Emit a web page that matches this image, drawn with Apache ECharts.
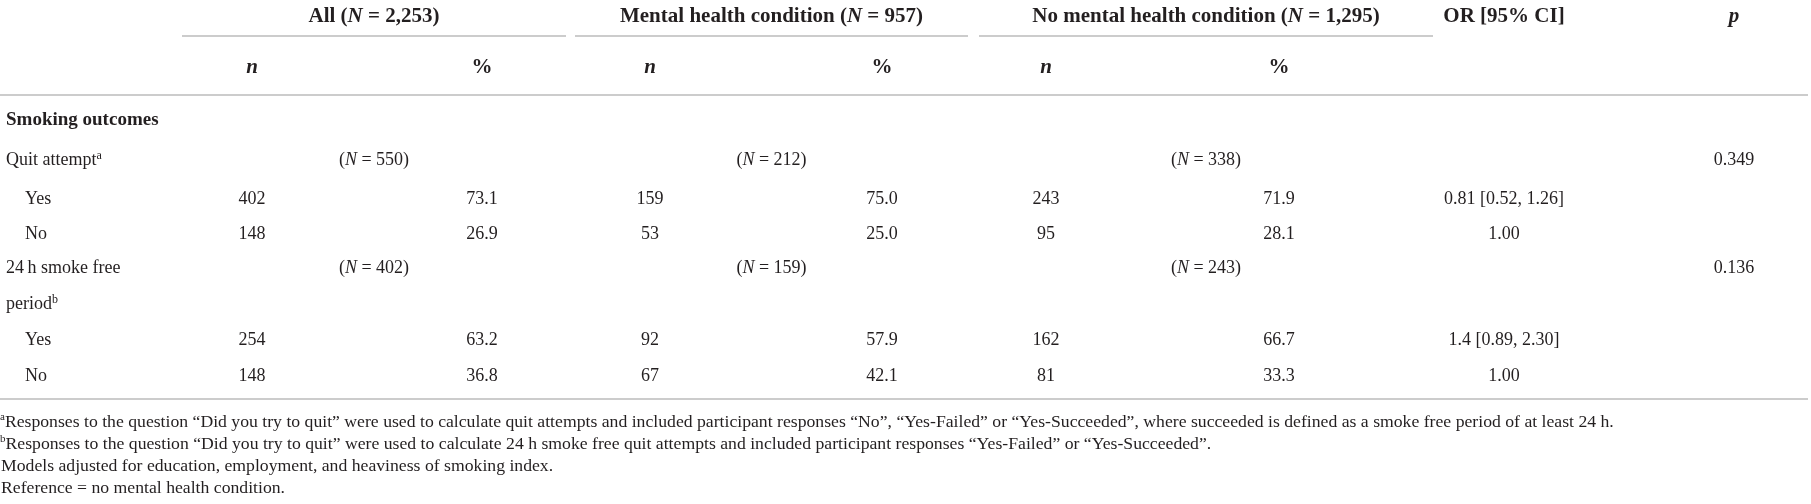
<!DOCTYPE html>
<html>
<head>
<meta charset="utf-8">
<script src="https://cdn.jsdelivr.net/npm/echarts@6/dist/echarts.min.js"></script>
<style>
  html, body { margin: 0; padding: 0; background: #fff; }
  #main { width: 1811px; height: 504px; }
</style>
</head>
<body>
<div id="main"></div>
<script>
const groupNames = ['All', 'Mental health condition', 'No mental health condition']
const groupTotals = ['2,253', '957', '1,295']
const subHeaders = ['n', '%']
const quitTotals = ['550', '212', '338']
const smokeFreeTotals = ['402', '159', '243']
const outcomeLabels = ['Yes', 'No', 'Yes', 'No']
const allN = ['402', '148', '254', '148']
const allPct = ['73.1', '26.9', '63.2', '36.8']
const mentalN = ['159', '53', '92', '67']
const mentalPct = ['75.0', '25.0', '57.9', '42.1']
const noMentalN = ['243', '95', '162', '81']
const noMentalPct = ['71.9', '28.1', '66.7', '33.3']
const oddsRatios = ['0.81 [0.52, 1.26]', '1.00', '1.4 [0.89, 2.30]', '1.00']
const pValues = ['0.349', '0.136']
const footnotes = [
  ['a', 'Responses to the question \u201cDid you try to quit\u201d were used to calculate quit attempts and included participant responses \u201cNo\u201d, \u201cYes-Failed\u201d or \u201cYes-Succeeded\u201d, where succeeded is defined as a smoke free period of at least 24 h.'],
  ['b', 'Responses to the question \u201cDid you try to quit\u201d were used to calculate 24 h smoke free quit attempts and included participant responses \u201cYes-Failed\u201d or \u201cYes-Succeeded\u201d.'],
  ['', 'Models adjusted for education, employment, and heaviness of smoking index.'],
  ['', 'Reference = no mental health condition.']
]

// layout
const FONT = '"Liberation Serif", "DejaVu Serif", serif'
const INK = '#231f20'
const RULE = '#cccccc'
const groupSpans = [[182, 566], [575, 968], [979, 1433]]
const nX = [252, 650, 1046]
const pctX = [482, 882, 1279]
const orX = 1504
const pX = 1734
const headY = 17
const groupLineY = 36
const subHeadY = 68
const topRuleY = 95
const rowY = [120, 160, 199, 234, 268, 304, 340, 376]
const bottomRuleY = 399
const noteY = [422, 444, 466, 488]

const rich = {
  b: { fontFamily: FONT, fontSize: 21, fontWeight: 'bold', fill: INK, lineHeight: 24 },
  bi: { fontFamily: FONT, fontSize: 21, fontWeight: 'bold', fontStyle: 'italic', fill: INK, lineHeight: 24 },
  r: { fontFamily: FONT, fontSize: 18, fill: INK, lineHeight: 20 },
  i: { fontFamily: FONT, fontSize: 18, fontStyle: 'italic', fill: INK, lineHeight: 20 },
  rb: { fontFamily: FONT, fontSize: 19, fontWeight: 'bold', fill: INK, lineHeight: 20 },
  sup: { fontFamily: FONT, fontSize: 12, fill: INK, verticalAlign: 'top', lineHeight: 20 },
  f: { fontFamily: FONT, fontSize: 17.7, fill: INK, lineHeight: 20 },
  fsup: { fontFamily: FONT, fontSize: 11, fill: INK, verticalAlign: 'top', lineHeight: 19 }
}

const txt = (x, y, text, align) => ({
  type: 'text', x: x, y: y, silent: true,
  style: {
    text: text, rich: rich, fill: INK,
    align: align || 'center', verticalAlign: 'middle',
    textAlign: align || 'center', textVerticalAlign: 'middle'
  }
})

const hline = (x1, x2, y) => ({
  type: 'line', silent: true,
  shape: { x1: x1, y1: y, x2: x2, y2: y },
  style: { stroke: RULE, lineWidth: 2 }
})

const nCols = [allN, mentalN, noMentalN]
const pctCols = [allPct, mentalPct, noMentalPct]

function buildTable() {
  const els = []
  // header
  groupNames.forEach((g, k) => {
    const s = groupSpans[k]
    const mid = (s[0] + s[1]) / 2
    els.push(txt(mid, headY, '{b|' + g + ' (}{bi|N}{b| = ' + groupTotals[k] + ')}'))
    els.push(hline(s[0], s[1], groupLineY))
    els.push(txt(nX[k], subHeadY, '{bi|' + subHeaders[0] + '}'))
    els.push(txt(pctX[k], subHeadY, '{b|' + subHeaders[1] + '}'))
    els.push(txt(mid, rowY[1], '{r|(}{i|N}{r| = ' + quitTotals[k] + ')}'))
    els.push(txt(mid, rowY[4], '{r|(}{i|N}{r| = ' + smokeFreeTotals[k] + ')}'))
  })
  els.push(txt(orX, headY, '{b|OR [95% CI]}'))
  els.push(txt(pX, headY, '{bi|p}'))
  els.push(hline(0, 1808, topRuleY))

  // row labels
  els.push(txt(6, rowY[0], '{rb|Smoking outcomes}', 'left'))
  els.push(txt(6, rowY[1], '{r|Quit attempt}{sup|a}', 'left'))
  els.push(txt(6, rowY[4], '{r|24\u2009h smoke free}', 'left'))
  els.push(txt(6, rowY[5], '{r|period}{sup|b}', 'left'))

  const dataRows = [rowY[2], rowY[3], rowY[6], rowY[7]]
  dataRows.forEach((y, r) => {
    els.push(txt(25, y, '{r|' + outcomeLabels[r] + '}', 'left'))
    groupSpans.forEach((s, k) => {
      els.push(txt(nX[k], y, '{r|' + nCols[k][r] + '}'))
      els.push(txt(pctX[k], y, '{r|' + pctCols[k][r] + '}'))
    })
    els.push(txt(orX, y, '{r|' + oddsRatios[r] + '}'))
  })
  els.push(txt(pX, rowY[1], '{r|' + pValues[0] + '}'))
  els.push(txt(pX, rowY[4], '{r|' + pValues[1] + '}'))

  els.push(hline(0, 1808, bottomRuleY))
  footnotes.forEach((fn, i) => {
    const t = (fn[0] ? '{fsup|' + fn[0] + '}' : '') + '{f|' + fn[1] + '}'
    els.push(txt(fn[0] ? 0 : 1, noteY[i], t, 'left'))
  })
  return els
}

const chart = echarts.init(document.getElementById('main'), null, { renderer: 'canvas' })
chart.setOption({
  backgroundColor: '#ffffff',
  animation: false,
  graphic: { elements: buildTable() }
})
</script>
</body>
</html>
